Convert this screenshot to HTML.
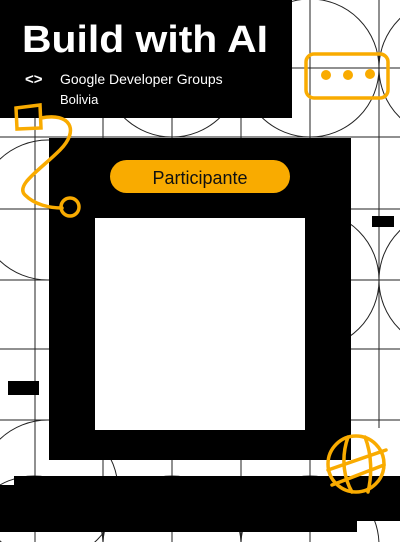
<!DOCTYPE html>
<html><head><style>
html,body{margin:0;padding:0;width:400px;height:542px;overflow:hidden;background:#fff;font-family:"Liberation Sans",sans-serif}
svg{display:block}
</style></head><body>
<svg width="400" height="542" viewBox="0 0 400 542" xmlns="http://www.w3.org/2000/svg">
<g stroke="#222" stroke-width="1" fill="none">
<line x1="35" y1="0" x2="35" y2="542"/><line x1="103" y1="0" x2="103" y2="542"/>
<line x1="172" y1="0" x2="172" y2="542"/><line x1="241" y1="0" x2="241" y2="542"/>
<line x1="310" y1="0" x2="310" y2="542"/><line x1="379" y1="0" x2="379" y2="428"/>
<line x1="0" y1="68" x2="400" y2="68"/><line x1="0" y1="137" x2="400" y2="137"/>
<line x1="0" y1="209" x2="400" y2="209"/><line x1="0" y1="280" x2="400" y2="280"/>
<line x1="0" y1="349" x2="400" y2="349"/><line x1="0" y1="420" x2="400" y2="420"/>
<circle cx="172" cy="68" r="69"/><circle cx="310" cy="68" r="69"/><circle cx="448" cy="68" r="69"/>
<circle cx="310" cy="280" r="69"/><circle cx="448" cy="280" r="69"/>
<circle cx="48" cy="210" r="70"/><circle cx="48" cy="490" r="70"/>
<circle cx="34" cy="545" r="69"/><circle cx="172" cy="545" r="69"/><circle cx="310" cy="545" r="69"/>
</g>
<rect x="0" y="0" width="292" height="118" fill="#000"/>
<rect x="49" y="138" width="302" height="322" fill="#000"/>
<rect x="95" y="218" width="210" height="212" fill="#fff"/>
<path d="M14 476 H400 V521 H357 V532 H0 V485 H14 Z" fill="#000"/>
<rect x="372" y="216" width="22" height="11" fill="#000"/>
<rect x="8" y="381" width="31" height="14" fill="#000"/>
<rect x="110" y="160" width="180" height="33" rx="16.5" fill="#F9AB00"/>
<text x="200" y="184" text-anchor="middle" font-family="Liberation Sans" font-size="18" fill="#111">Participante</text>
<text x="22" y="52" font-family="Liberation Sans" font-weight="bold" font-size="38" fill="#fff" textLength="246" lengthAdjust="spacingAndGlyphs">Build with AI</text>
<text x="25" y="84" font-family="Liberation Sans" font-weight="bold" font-size="15" fill="#fff">&lt;&gt;</text>
<text x="60" y="84" font-family="Liberation Sans" font-size="14" fill="#fff">Google Developer Groups</text>
<text x="60" y="104" font-family="Liberation Sans" font-size="13" fill="#fff">Bolivia</text>
<g stroke="#F9AB00" stroke-width="3.5" fill="none" stroke-linecap="round">
<rect x="306" y="54" width="82" height="44" rx="8"/>
<path d="M16 108 L40 105 L41 128 L17 129 Z"/>
<path d="M41 118 C70 112 80 130 60 150 C40 170 15 185 25 195 C35 205 50 208 62 208"/>
<circle cx="70" cy="207" r="9"/>
<circle cx="356" cy="464" r="28"/>
<path d="M328 470 L386 450 M332 485 L384 465 M348 437 C340 460 345 480 352 492 M365 437 C372 455 372 475 368 492"/>
</g>
<g fill="#F9AB00"><circle cx="326" cy="75" r="5"/><circle cx="348" cy="75" r="5"/><circle cx="370" cy="74" r="5"/></g>
</svg>
</body></html>
